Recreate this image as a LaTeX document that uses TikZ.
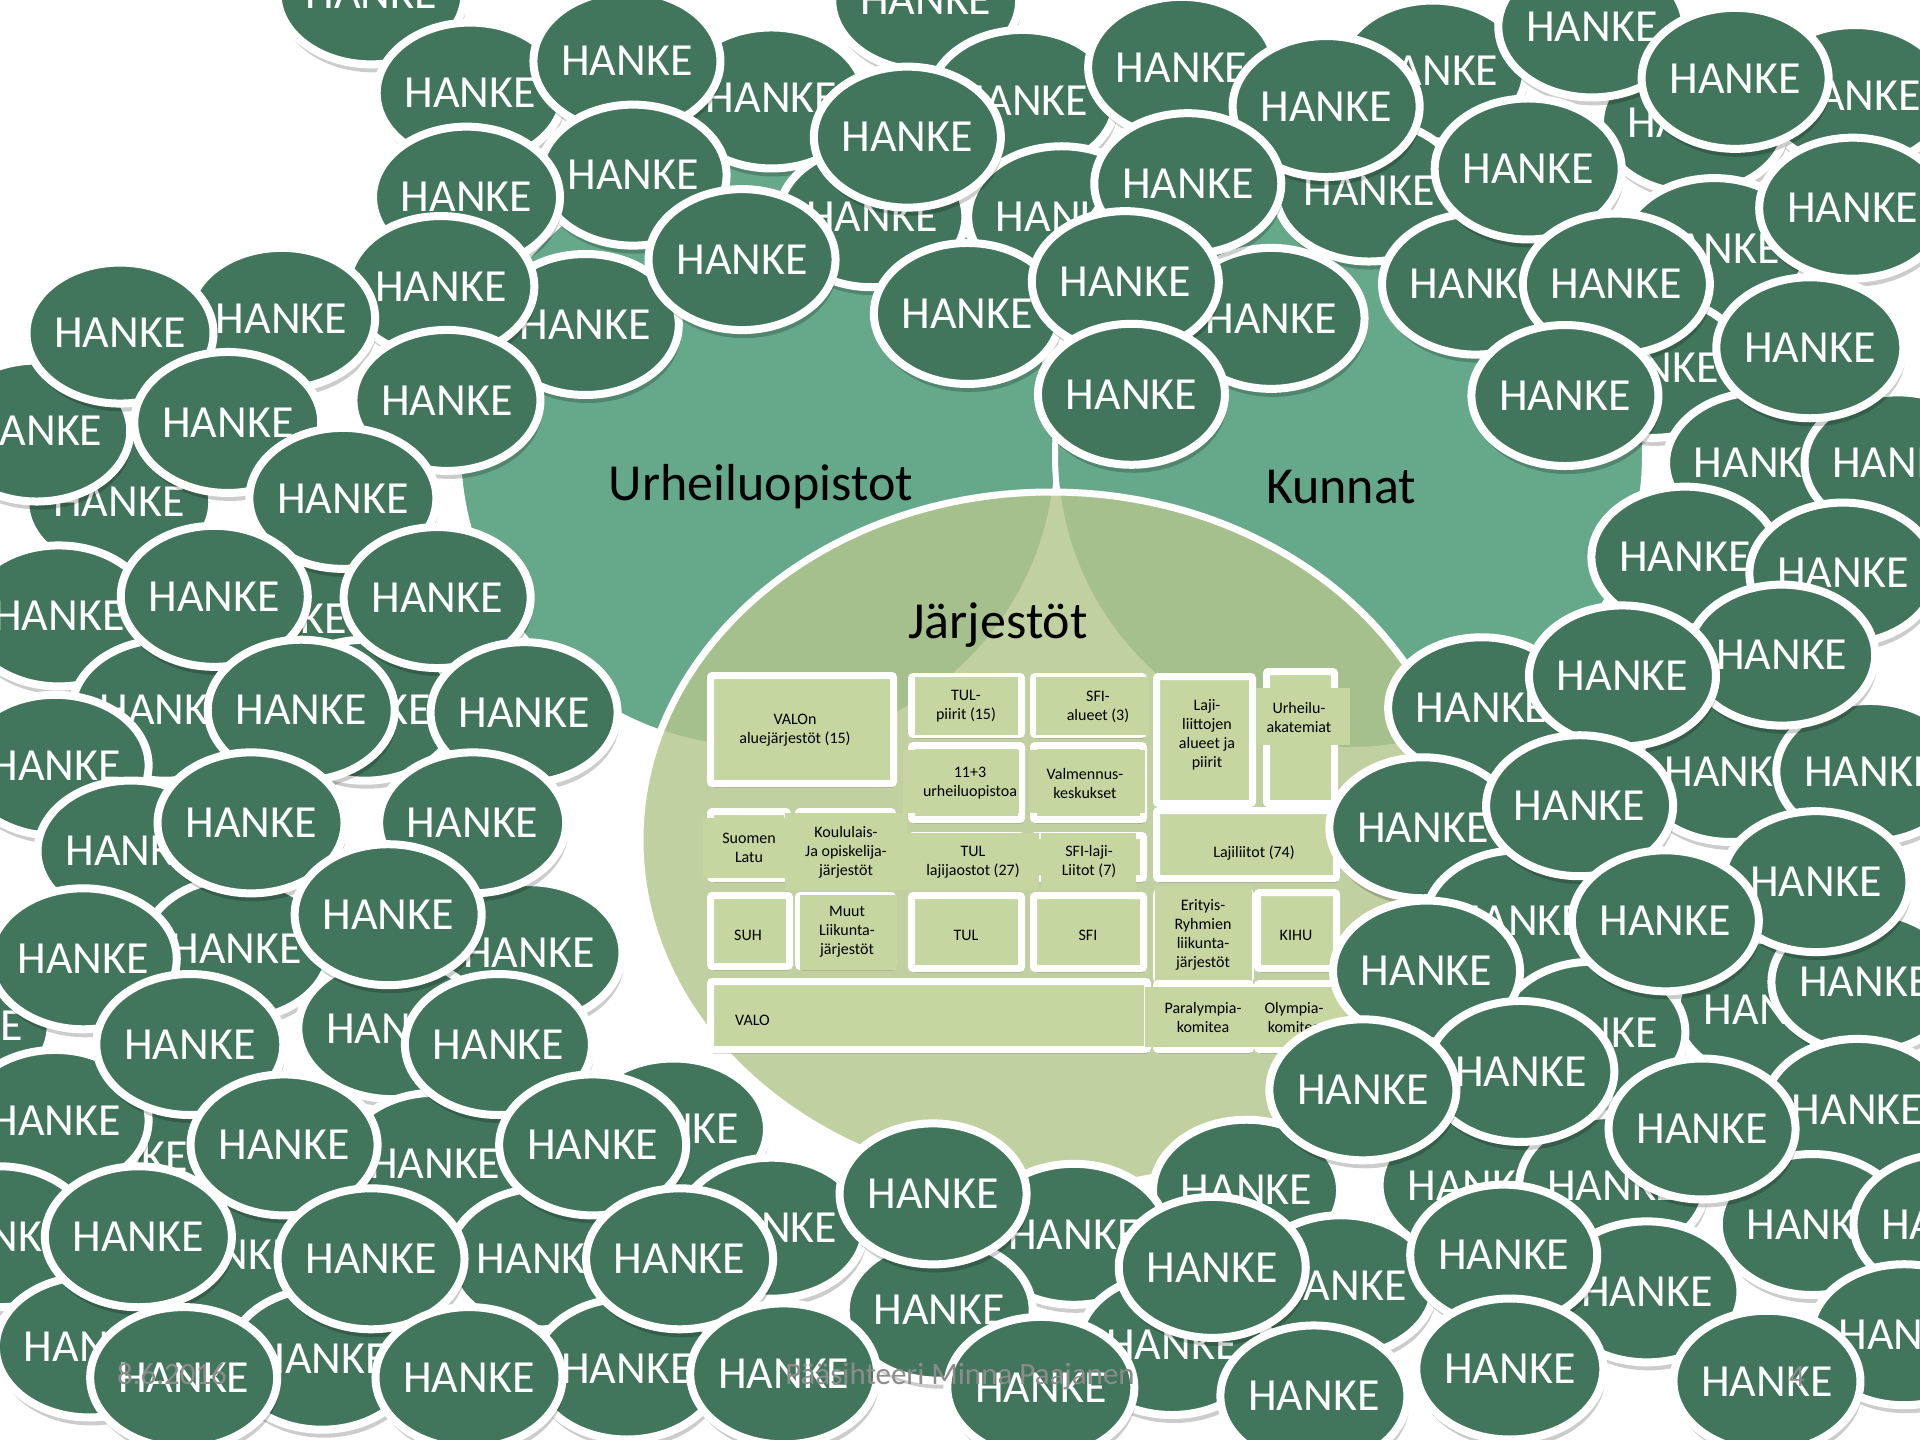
\documentclass[tikz,border=0pt]{standalone}
\usepackage{fontspec}
\setmainfont{Carlito}
\usetikzlibrary{shapes.geometric,shadows}
\definecolor{hkgreen}{RGB}{66,118,92}
\definecolor{urhcol}{RGB}{102,168,138}
\definecolor{jarcol}{RGB}{180,198,141}
\definecolor{boxcol}{RGB}{197,214,160}
\definecolor{footgray}{RGB}{140,140,140}
\tikzset{
 hanke/.style={ellipse, draw=white, line width=8pt, fill=hkgreen, minimum width=187pt, minimum height=141pt, inner sep=0pt, text=white, font=\fontsize{46}{50}\selectfont, drop shadow={shadow xshift=2pt, shadow yshift=-8pt, opacity=0.2, fill=black}},
 frame/.style={rectangle, draw=white, line width=7pt, fill=boxcol, rounded corners=2pt, inner sep=0pt, drop shadow={shadow xshift=1pt, shadow yshift=-4pt, opacity=0.25, fill=black}},
 patch/.style={rectangle, fill=boxcol, inner sep=0pt},
 lbl/.style={font=\fontsize{16}{19}\selectfont, align=center, text=black, inner sep=0pt},
 big/.style={font=\fontsize{52}{60}\selectfont, text=black, inner sep=0pt, anchor=base},
 foot/.style={font=\fontsize{31}{36}\selectfont, text=footgray, inner sep=0pt, anchor=base},
}
\newcounter{hkc}
\newcommand{\hk}[2]{\stepcounter{hkc}\edef\hkname{hk\arabic{hkc}}\node[hanke] (\hkname) at ({#1*1.2245},{#2*1.2245}) {HANKE};}
\newcommand{\fr}[5]{\node[frame, minimum width=#4pt, minimum height=#5pt] (#1) at (#2,#3) {};}
\newcommand{\pt}[5]{\node[patch, minimum width=#4pt, minimum height=#5pt] (#1) at (#2,#3) {};}
\begin{document}
\begin{tikzpicture}[x=1pt,y=-1pt]
\useasboundingbox (0,0) rectangle (1920,1440);
\clip (0,0) rectangle (1920,1440);
\fill[white] (0,0) rectangle (1920,1440);
% big circles
\path[fill=urhcol, draw=white, line width=6pt] (758,449) circle[radius=300];
\path[fill=urhcol, draw=white, line width=6pt] (1350,455) circle[radius=295];
\fill[jarcol, opacity=0.82] (1051,840) ellipse[x radius=411, y radius=348];
\draw[white, line width=7pt] (1051,840) ellipse[x radius=411, y radius=348];
\node[big] (urh) at (761,500) {Urheiluopistot};
\node[big] (kun) at (1341,503) {Kunnat};
\node[big] (jar) at (998,638) {Järjestöt};
% boxes
\fr{b1}{802}{729.5}{183}{108}
\node[lbl] (t1) at (795,730) {VALOn\\aluejärjestöt (15)};
\fr{b2}{966.5}{705.5}{110}{58}
\pt{p2}{966.5}{706}{103}{58}
\node[lbl] (t2) at (966,706) {TUL-\\piirit (15)};
\fr{b3}{1088.5}{705.5}{110}{58}
\pt{p3}{1092.5}{706}{113}{58}
\node[lbl] (t3) at (1098,707) {SFI-\\alueet (3)};
\fr{b4}{1204.5}{740}{96}{127}
\node[lbl] (t4) at (1207,735) {Laji-\\liittojen\\alueet ja\\piirit};
\fr{b5}{1300.5}{737.5}{68}{132}
\pt{p5}{1303}{716.5}{94}{57}
\node[lbl] (t5) at (1299,717) {Urheilu-\\akatemiat};
\fr{b6}{966.5}{782.5}{110}{74}
\pt{p6}{961}{781.5}{116}{63}
\node[lbl] (t6) at (970,783) {11+3\\urheiluopistoa};
\fr{b7}{1088.5}{782.5}{110}{74}
\pt{p7}{1087}{781.5}{116}{63}
\node[lbl] (t7) at (1085,783) {Valmennus-\\keskukset};
\fr{b8}{749}{845}{77}{67}
\fr{b9}{845.5}{845}{94}{67}
\fr{b10}{966.5}{857}{110}{43}
\fr{b11}{1088.5}{857}{110}{43}
\fr{b12}{1246.5}{844.5}{180}{68}
\pt{p8}{747}{848}{88}{60}
\pt{p9}{846}{851.5}{122}{77}
\pt{p10}{967.5}{861.5}{143}{57}
\pt{p11}{1088.5}{861.5}{95}{57}
\node[lbl] (t8) at (749,848) {Suomen\\Latu};
\node[lbl] (t9) at (846,852) {Koululais-\\Ja opiskelija-\\järjestöt};
\node[lbl] (t10) at (973,862) {TUL\\lajijaostot (27)};
\node[lbl] (t11) at (1089,862) {SFI-laji-\\Liitot (7)};
\node[lbl] (t12) at (1254,853) {Lajiliitot (74)};
\fr{b13}{750}{931}{79}{71}
\node[lbl] (t13) at (748,935) {SUH};
\fr{b14}{845.5}{931}{94}{71}
\pt{p14}{848}{932.5}{96}{75}
\node[lbl] (t14) at (847,932) {Muut\\Liikunta-\\järjestöt};
\fr{b15}{966.5}{932}{110}{73}
\node[lbl] (t15) at (966,935) {TUL};
\fr{b16}{1088.5}{932}{110}{73}
\node[lbl] (t16) at (1088,935) {SFI};
\fr{b17}{1203.5}{936}{94}{87}
\pt{p17}{1203.5}{934.5}{97}{97}
\node[lbl] (t17) at (1203,935) {Erityis-\\Ryhmien\\liikunta-\\järjestöt};
\fr{b18}{1297}{930.5}{79}{76}
\node[lbl] (t18) at (1296,935) {KIHU};
\fr{b19}{929}{1015.5}{437}{68}
\node[lbl, anchor=west] (t19) at (735,1020) {VALO};
\fr{b20}{1203.5}{1016.5}{94}{66}
\fr{b21}{1297}{1016.5}{79}{66}
\pt{p20}{1198.5}{1017}{107}{60}
\pt{p21}{1297.5}{1017}{95}{60}
\node[lbl] (t20) at (1203,1017) {Paralympia-\\komitea};
\node[lbl] (t21) at (1294,1017) {Olympia-\\komitea};
% hidden layer of HANKE ellipses
\hk{97}{410}
\hk{303}{-5}
\hk{756}{0}
\hk{1170}{58}
\hk{1515}{78}
\hk{630}{80}
\hk{835}{82}
\hk{1383}{100}
\hk{1118}{156}
\hk{712}{177}
\hk{867}{177}
\hk{1400}{203}
\hk{1205}{232}
\hk{1038}{260}
\hk{478}{265}
\hk{1350}{300}
\hk{30}{352}
\hk{1437}{378}
\hk{1550}{378}
\hk{1376}{455}
\hk{48}{503}
\hk{230}{505}
\hk{1210}{578}
\hk{135}{580}
\hk{298}{580}
\hk{45}{625}
\hk{1413}{630}
\hk{1527}{630}
\hk{1162}{676}
\hk{107}{695}
\hk{1240}{752}
\hk{193}{775}
\hk{432}{778}
\hk{1445}{825}
\hk{1523}{802}
\hk{320}{840}
\hk{-35}{838}
\hk{1300}{843}
\hk{100}{945}
\hk{45}{915}
\hk{1517}{906}
\hk{550}{922}
\hk{355}{950}
\hk{1018}{972}
\hk{1203}{968}
\hk{1317}{968}
\hk{1480}{1000}
\hk{1590}{1000}
\hk{630}{1003}
\hk{877}{1008}
\hk{-1}{1010}
\hk{187}{1025}
\hk{443}{1028}
\hk{1095}{1050}
\hk{1345}{1055}
\hk{767}{1070}
\hk{1555}{1090}
\hk{957}{1098}
\hk{73}{1100}
\hk{263}{1110}
\hk{512}{1118}
% top layer
\hk{1300}{22}
\hk{384}{76}
\hk{512}{50}
\hk{965}{55}
\hk{1417}{64}
\hk{1083}{87}
\hk{741}{112}
\hk{1248}{138}
\hk{517}{143}
\hk{970}{150}
\hk{381}{161}
\hk{1513}{170}
\hk{606}{212}
\hk{790}{256}
\hk{919}{230}
\hk{1320}{232}
\hk{360}{234}
\hk{230}{260}
\hk{98}{272}
\hk{1478}{284}
\hk{924}{322}
\hk{1278}{323}
\hk{365}{327}
\hk{186}{345}
\hk{280}{407}
\hk{1505}{468}
\hk{175}{487}
\hk{357}{488}
\hk{1455}{535}
\hk{1325}{552}
\hk{246}{580}
\hk{428}{582}
\hk{1290}{658}
\hk{205}{672}
\hk{386}{672}
\hk{1483}{720}
\hk{317}{747}
\hk{1360}{752}
\hk{68}{783}
\hk{1165}{793}
\hk{407}{853}
\hk{155}{853}
\hk{1242}{875}
\hk{1113}{890}
\hk{1390}{922}
\hk{232}{935}
\hk{484}{935}
\hk{762}{975}
\hk{113}{1010}
\hk{1228}{1025}
\hk{303}{1028}
\hk{555}{1028}
\hk{990}{1035}
\hk{1233}{1118}
\hk{640}{1122}
\hk{150}{1125}
\hk{383}{1125}
\hk{1443}{1128}
\hk{850}{1133}
\hk{1073}{1140}
% footer
\node[foot] (date) at (172,1384) {8.6.2016};
\node[foot] (author) at (960,1384) {Pääsihteeri Minna Paajanen};
\node[foot] (page) at (1797,1386) {4};
\end{tikzpicture}
\end{document}
